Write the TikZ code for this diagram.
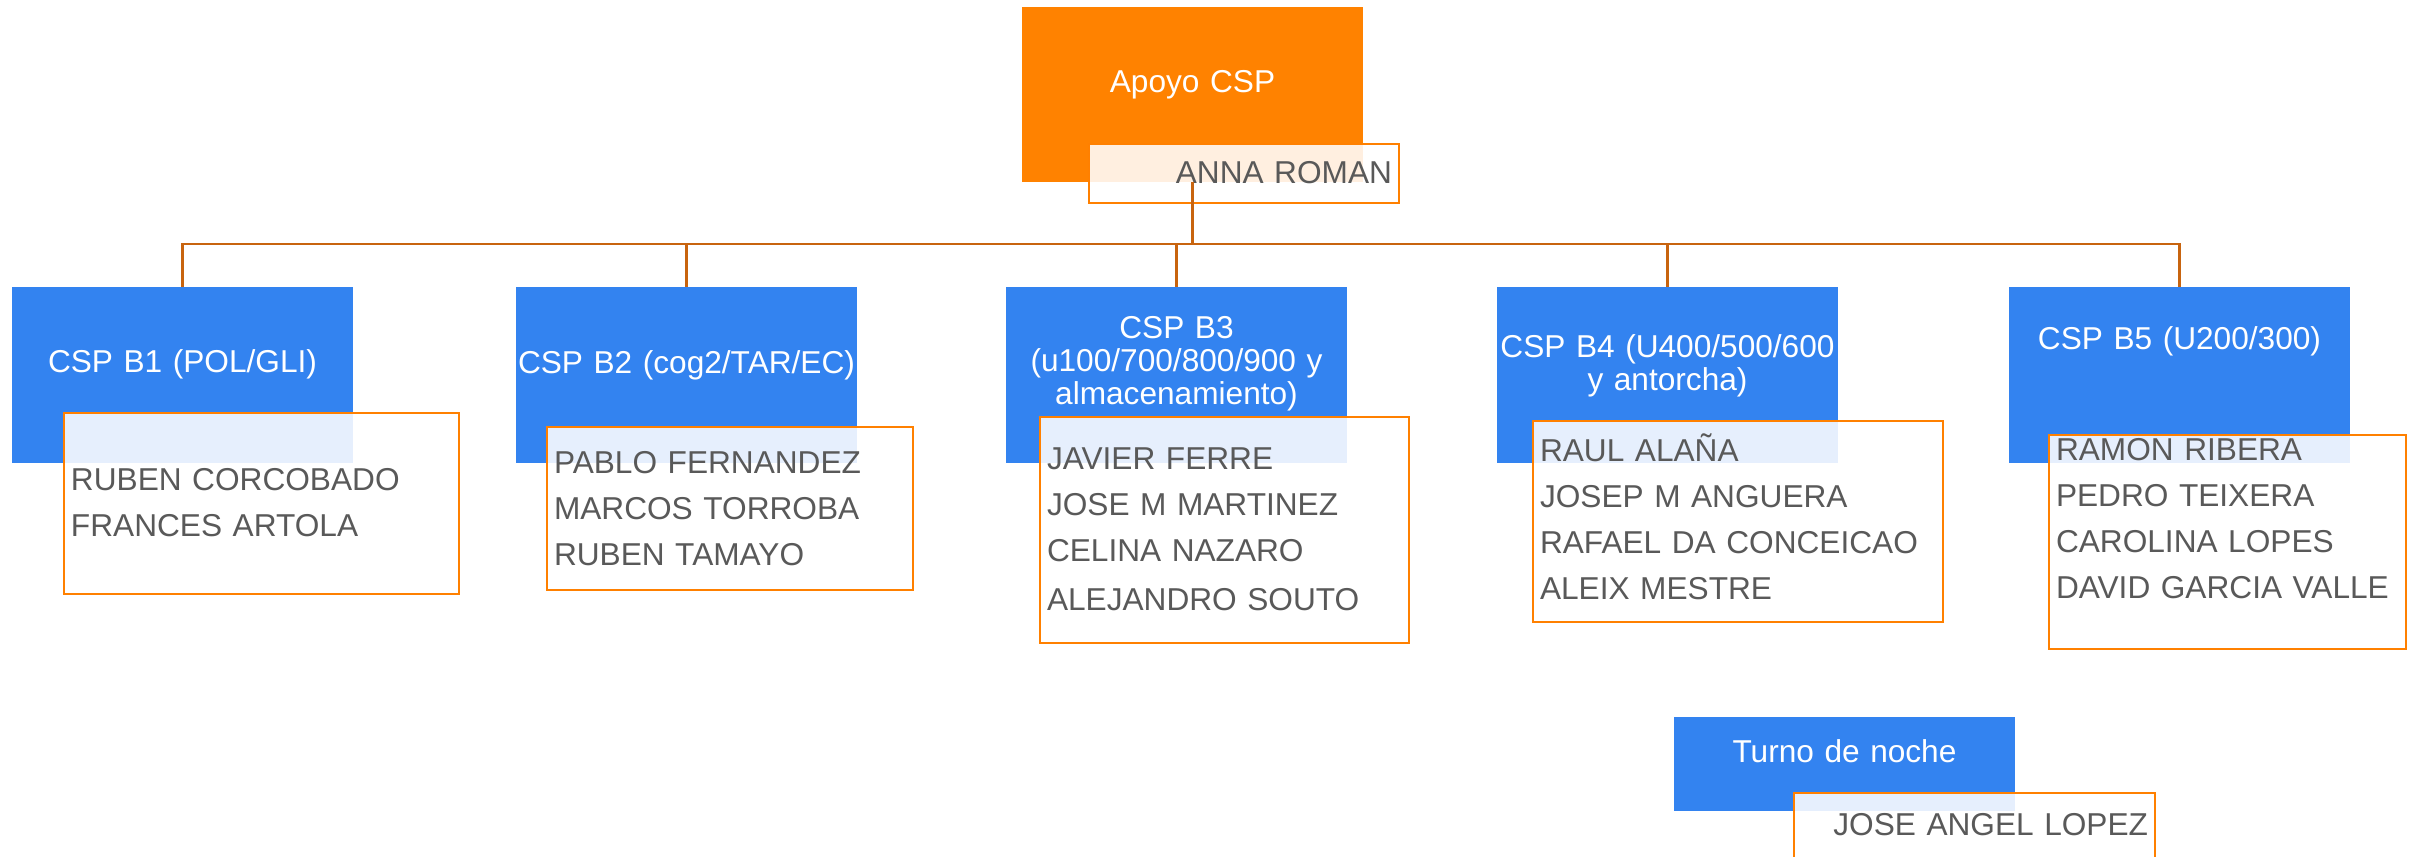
\documentclass[tikz,border=0pt]{standalone}
\usepackage{fontspec}
\setmainfont{Liberation Sans}
\usepackage{xcolor}
\usepackage{tikz}
\definecolor{unitblue}{RGB}{51,131,240}
\definecolor{headorange}{RGB}{255,130,0}
\definecolor{boxorange}{RGB}{255,128,0}
\definecolor{linkorange}{RGB}{200,100,15}
\definecolor{namegray}{RGB}{89,89,89}
\tikzstyle{unit} = [rectangle,fill=unitblue,text=white,anchor=north west,outer sep=0pt,inner xsep=0pt,inner ysep=0pt,text width=3.41cm,align=center,font=\fontsize{9}{9.5}\selectfont]
\tikzstyle{names} = [rectangle,draw=boxorange,line width=0.8pt,fill=white,fill opacity=0.88,text opacity=1,text=namegray,anchor=north west,outer sep=0pt,inner xsep=0.07cm,inner ysep=0pt,align=left,font=\fontsize{9}{13.1}\selectfont]
\tikzstyle{link} = [line width=0.7pt,draw=linkorange]
\begin{document}
\begin{tikzpicture}
            \useasboundingbox (0,0) rectangle (24.09,8.56);
            % units
            \node[unit,fill=headorange,text height=0.85cm,text depth=0.90cm] (apoyo) at (10.22,8.49) {Apoyo CSP};
            \node[unit,text height=0.85cm,text depth=0.91cm] (b1) at (0.12,5.69) {CSP B1 (POL/GLI)};
            \node[unit,text height=0.86cm,text depth=0.90cm] (b2) at (5.16,5.69) {CSP B2 (cog2/TAR/EC)};
            \node[unit,text height=0.51cm,text depth=1.25cm] (b3) at (10.06,5.69) {CSP B3\\(u100/700/800/900 y\\almacenamiento)};
            \node[unit,text height=0.70cm,text depth=1.06cm] (b4) at (14.97,5.69) {CSP B4 (U400/500/600\\y antorcha)};
            \node[unit,text height=0.62cm,text depth=1.14cm] (b5) at (20.09,5.69) {CSP B5 (U200/300)};
            \node[unit,text height=0.45cm,text depth=0.49cm] (turno) at (16.74,1.39) {Turno de noche};
            % people
            \node[names,align=right,text width=2.96cm,text height=0.39cm,text depth=0.20cm] (anna) at (10.89,7.12) {ANNA ROMAN};
            \node[names,text width=3.81cm,text height=0.77cm,text depth=1.04cm] (n1) at (0.64,4.43) {RUBEN CORCOBADO\\FRANCES ARTOLA};
            \node[names,text width=3.52cm,text height=0.46cm,text depth=1.17cm] (n2) at (5.47,4.29) {PABLO FERNANDEZ\\MARCOS TORROBA\\RUBEN TAMAYO};
            \node[names,text width=3.55cm,text height=0.52cm,text depth=1.74cm] (n3) at (10.40,4.39) {JAVIER FERRE\\JOSE M MARTINEZ\\CELINA NAZARO\\[0.9pt]ALEJANDRO SOUTO};
            \node[names,text width=3.96cm,text height=0.40cm,text depth=1.61cm] (n4) at (15.33,4.35) {RAUL ALAÑA\\JOSEP M ANGUERA\\RAFAEL DA CONCEICAO\\ALEIX MESTRE};
            \node[names,text width=3.43cm,text height=0.25cm,text depth=1.89cm] (n5) at (20.49,4.21) {RAMON RIBERA\\PEDRO TEIXERA\\CAROLINA LOPES\\DAVID GARCIA VALLE};
            \node[names,align=right,text width=3.47cm,text height=0.42cm,text depth=0.40cm] (jose) at (17.94,0.63) {JOSE ANGEL LOPEZ};
            % lines
            \coordinate (bus) at (11.925,6.12);
            \draw[link] (apoyo.south) |- (bus -| b1.north) -- (b1.north);
            \draw[link] (apoyo.south) |- (bus -| b2.north) -- (b2.north);
            \draw[link] (apoyo.south) |- (bus -| b3.north) -- (b3.north);
            \draw[link] (apoyo.south) |- (bus -| b4.north) -- (b4.north);
            \draw[link] (apoyo.south) |- (bus -| b5.north) -- (b5.north);
        \end{tikzpicture}
\end{document}
